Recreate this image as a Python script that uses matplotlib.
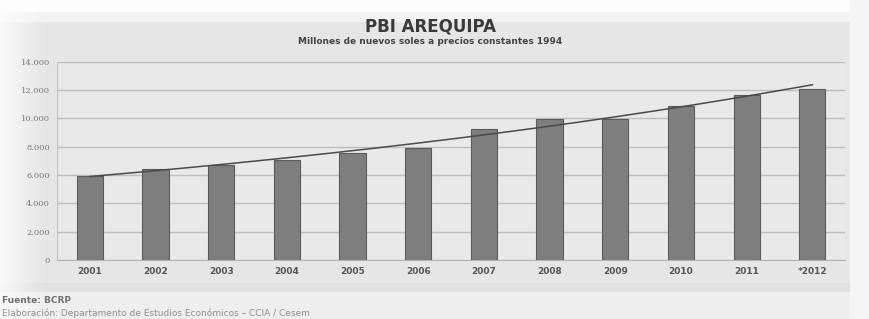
import numpy as np
import matplotlib
matplotlib.use('Agg')
import matplotlib.pyplot as plt

years = ["2001", "2002", "2003", "2004", "2005", "2006",
         "2007", "2008", "2009", "2010", "2011", "*2012"]
pbi = [5940, 6410, 6690, 7070, 7540, 7940,
       9260, 9990, 9980, 10880, 11640, 12060]
yticks = [0, 2000, 4000, 6000, 8000, 10000, 12000, 14000]
ytick_labels = ["0", "2.000", "4.000", "6.000", "8.000", "10.000", "12.000", "14.000"]

fig = plt.figure(figsize=(8.69, 3.19), dpi=100)

# background: grey panel, white strip on top, fade to white at the left edge
bg = fig.add_axes([0, 0, 1, 1], zorder=-10)
h, w = 319, 869
yy, xx = np.mgrid[0:h, 0:w]
img = np.full((h, w), 0.90)
img[yy < 12] = 0.99
img[(yy >= 12) & (yy < 22)] = 0.95
img[yy > 282] = 0.93
img[(yy > 282) & (yy < 292)] = 0.88
left = np.clip(1 - xx / 45.0, 0, 1)
img = img + (0.99 - img) * left * 0.8
img[:, 850:] = 0.96
bg.imshow(img, cmap='gray', vmin=0, vmax=1, aspect='auto', interpolation='bilinear')
bg.axis('off')

ax = fig.add_axes([0.0656, 0.185, 0.907, 0.621])
ax.set_facecolor((0.915, 0.915, 0.915))
x = np.arange(len(years))
ax.bar(x, pbi, width=0.4, color='#7e7e7e', edgecolor='#5a5a5a', linewidth=0.8, zorder=3)

# exponential trend line fitted on the bar values
b, a = np.polyfit(x, np.log(pbi), 1)
xs = np.linspace(0, len(years) - 1, 200)
ax.plot(xs, np.exp(a + b * xs), color='#4a4a4a', linewidth=1.1, zorder=4)

ax.set_xlim(-0.5, len(years) - 0.5)
ax.set_ylim(0, 14000)
ax.set_yticks(yticks)
ax.set_yticklabels(ytick_labels, fontsize=6, color='#777777', family='DejaVu Serif')
ax.set_xticks(x)
ax.set_xticklabels(years, fontsize=6.5, fontweight='bold', color='#555555')
ax.tick_params(length=0, pad=5)
ax.grid(axis='y', color='#bdbdbd', linewidth=1.0, zorder=0)
for s in ['top', 'right']:
	ax.spines[s].set_visible(False)
ax.spines['left'].set_color('#c4c4c4')
ax.spines['bottom'].set_color('#b5b5b5')

fig.text(0.495, 1 - 32 / 319, "PBI AREQUIPA", ha='center', va='baseline',
	fontsize=12, fontweight='bold', color='#3a3a3a')
fig.text(0.495, 1 - 44 / 319, "Millones de nuevos soles a precios constantes 1994", ha='center',
	va='baseline', fontsize=6.5, fontweight='bold', color='#444444')

fig.text(0.002, 0.058, "Fuente: BCRP", ha='left', va='center',
	fontsize=6.5, fontweight='bold', color='#707070')
fig.text(0.002, 0.018, "Elaboración: Departamento de Estudios Económicos – CCIA / Cesem",
	ha='left', va='center', fontsize=6.5, color='#909090')

fig.savefig('out.png', dpi=100)
